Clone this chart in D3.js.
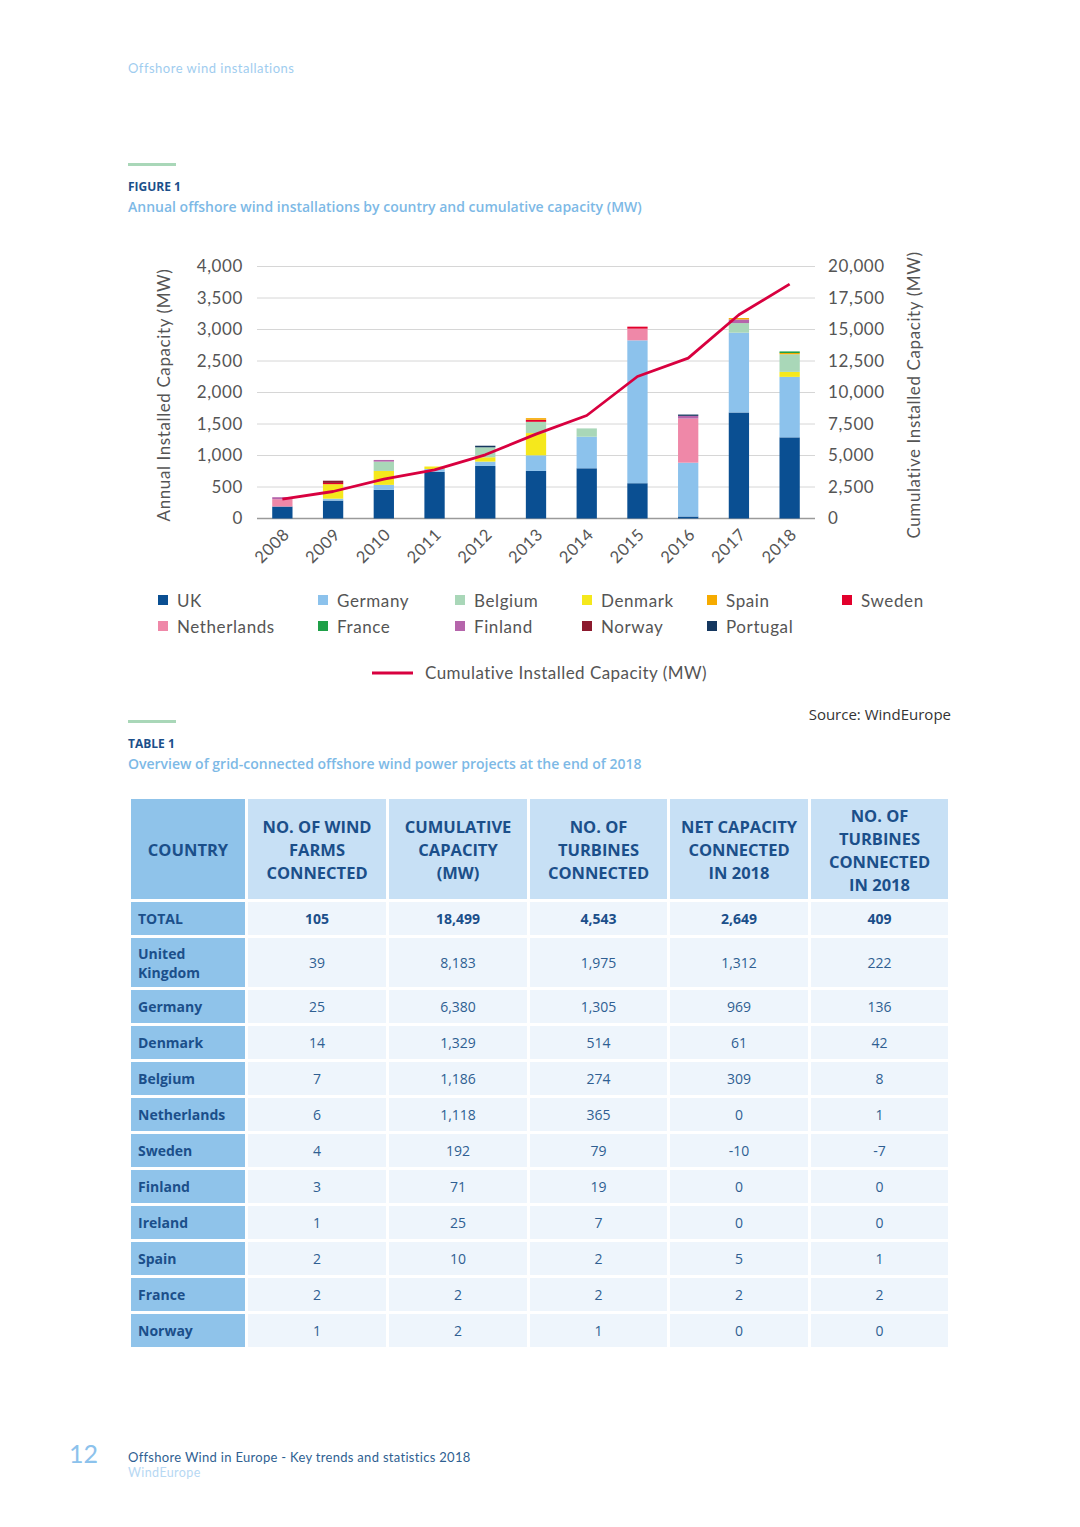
<!DOCTYPE html>
<html><head><meta charset="utf-8">
<script src="https://cdn.jsdelivr.net/npm/d3@7/dist/d3.min.js"></script>
<style>
html,body{margin:0;padding:0;background:#fff;}
svg{display:block;}
</style></head>
<body>
<svg id="page" width="1080" height="1527"></svg>
<script>
// ---------- DATA ----------
const years = ["2008","2009","2010","2011","2012","2013","2014","2015","2016","2017","2018"];
const UK          = [190, 285, 454, 740, 834, 755, 797, 560, 32, 1683, 1288];
const Germany     = [0, 30, 80, 45, 69, 248, 501, 2268, 854, 1266, 960];
const Denmark     = [0, 230, 221, 40, 69, 353, 0, 0, 0, 0, 79];
const Belgium     = [0, 0, 148, 0, 158, 179, 132, 0, 0, 153, 280];
const Netherlands = [116, 0, 0, 0, 0, 0, 0, 185, 701, 0, 0];
const Finland     = [32, 0, 26, 0, 0, 0, 0, 0, 42, 58, 0];
const Sweden      = [0, 20, 0, 0, 0, 32, 0, 32, 0, 0, 0];
const Spain       = [0, 0, 0, 0, 0, 26, 0, 0, 0, 22, 20];
const France      = [0, 0, 0, 0, 0, 0, 0, 0, 0, 0, 25];
const Norway      = [0, 35, 0, 0, 0, 0, 0, 0, 0, 0, 0];
const Portugal    = [0, 0, 0, 0, 25, 0, 0, 0, 21, 0, 0];
const cumulative  = [1540, 2143, 3127, 3865, 5056, 6700, 8175, 11270, 12730, 16167, 18600];

const leftTicks  = [0, 500, 1000, 1500, 2000, 2500, 3000, 3500, 4000];
const rightTicks = [0, 2500, 5000, 7500, 10000, 12500, 15000, 17500, 20000];

const legendRow1 = ["UK", "Germany", "Belgium", "Denmark", "Spain", "Sweden"];
const legendRow2 = ["Netherlands", "France", "Finland", "Norway", "Portugal"];
const stackOrder = ["UK","Germany","Denmark","Belgium","Netherlands","Finland","Sweden","Spain","France","Norway","Portugal"];
const seriesValues = {UK, Germany, Denmark, Belgium, Netherlands, Finland, Sweden, Spain, France, Norway, Portugal};
const colors = {
  UK:"#0a4f92", Germany:"#8cc2ec", Belgium:"#a9d7b8", Denmark:"#f5e81c", Spain:"#f6ab00",
  Sweden:"#e2002c", Netherlands:"#ef88a8", France:"#1fa048", Finland:"#b565ab",
  Norway:"#8c1a2e", Portugal:"#15375f"
};
const lineColor = "#d8003f";

const tableHeaders = [
  ["COUNTRY"],
  ["NO. OF WIND","FARMS","CONNECTED"],
  ["CUMULATIVE","CAPACITY","(MW)"],
  ["NO. OF","TURBINES","CONNECTED"],
  ["NET CAPACITY","CONNECTED","IN 2018"],
  ["NO. OF","TURBINES","CONNECTED","IN 2018"]
];
const countries   = ["TOTAL","United Kingdom","Germany","Denmark","Belgium","Netherlands","Sweden","Finland","Ireland","Spain","France","Norway"];
const windFarms   = ["105","39","25","14","7","6","4","3","1","2","2","1"];
const cumCapacity = ["18,499","8,183","6,380","1,329","1,186","1,118","192","71","25","10","2","2"];
const turbines    = ["4,543","1,975","1,305","514","274","365","79","19","7","2","2","1"];
const netCap2018  = ["2,649","1,312","969","61","309","0","-10","0","0","5","2","0"];
const turb2018    = ["409","222","136","42","8","1","-7","0","0","1","2","0"];

// ---------- PAGE ----------
const svg = d3.select("#page");
const geo = "Lato, 'Open Sans', sans-serif";
const cal = "'Open Sans', 'Noto Sans', sans-serif";
const darkBlue = "#1b4f8a";

svg.append("text").attr("x",128).attr("y",73).attr("font-family",geo).attr("font-size",13)
  .attr("letter-spacing",0.5).attr("fill","#9fcdef").text("Offshore wind installations");

function section(y, label, title){
  svg.append("rect").attr("x",128).attr("y",y).attr("width",48).attr("height",3).attr("fill","#a9d7b8");
  svg.append("text").attr("x",128).attr("y",y+28).attr("font-family",cal).attr("font-weight",700)
    .attr("font-size",12).attr("fill",darkBlue).text(label);
  svg.append("text").attr("x",128).attr("y",y+49).attr("font-family",cal).attr("font-weight",600)
    .attr("font-size",14).attr("fill","#7db9e6").text(title);
}
section(163, "FIGURE 1", "Annual offshore wind installations by country and cumulative capacity (MW)");
section(720, "TABLE 1", "Overview of grid-connected offshore wind power projects at the end of 2018");

// ---------- CHART ----------
const x0 = 257, x1 = 815, yTop = 266.5, yBot = 518.5;
const x = d3.scaleBand().domain(years).range([x0, x1]).paddingInner(0.6).paddingOuter(0.3);
const yL = d3.scaleLinear().domain([0, 4000]).range([yBot, yTop]);
const yR = d3.scaleLinear().domain([0, 20000]).range([yBot, yTop]);

const g = svg.append("g");
// gridlines
g.selectAll("line.grid").data(leftTicks.slice(1)).join("line")
  .attr("x1", x0).attr("x2", x1).attr("y1", d=>yL(d)).attr("y2", d=>yL(d))
  .attr("stroke","#d6d6d6").attr("stroke-width",1);
g.append("line").attr("x1",x0).attr("x2",x1).attr("y1",yBot).attr("y2",yBot)
  .attr("stroke","#9a9a9a").attr("stroke-width",1.3);

// left axis
const axL = d3.axisLeft(yL).tickValues(leftTicks).tickSize(0).tickPadding(14).tickFormat(d3.format(","));
const gL = g.append("g").attr("transform",`translate(${x0},0)`).call(axL);
gL.select(".domain").remove();
gL.selectAll("text").attr("font-family",geo).attr("font-size",17).attr("letter-spacing",0.6).attr("fill","#555");
// right axis
const axR = d3.axisRight(yR).tickValues(rightTicks).tickSize(0).tickPadding(13).tickFormat(d3.format(","));
const gR = g.append("g").attr("transform",`translate(${x1},0)`).call(axR);
gR.select(".domain").remove();
gR.selectAll("text").attr("font-family",geo).attr("font-size",17).attr("letter-spacing",0.6).attr("fill","#555");
// x axis
const axX = d3.axisBottom(x).tickSize(0).tickPadding(0);
const gX = g.append("g").attr("transform",`translate(0,${yBot})`).call(axX);
gX.select(".domain").remove();
gX.selectAll("text").attr("font-family",geo).attr("font-size",16.5).attr("letter-spacing",0.6).attr("fill","#555")
  .attr("text-anchor","end").attr("dy",0)
  .attr("transform","translate(8,17) rotate(-45)");

// axis titles
svg.append("text").attr("transform","translate(170,395) rotate(-90)").attr("text-anchor","middle")
  .attr("font-family",geo).attr("font-size",17).attr("letter-spacing",0.6).attr("fill","#555").text("Annual Installed Capacity (MW)");
svg.append("text").attr("transform","translate(920,395) rotate(-90)").attr("text-anchor","middle")
  .attr("font-family",geo).attr("font-size",17).attr("letter-spacing",0.6).attr("fill","#555").text("Cumulative Installed Capacity (MW)");

// stacked bars
const table = years.map((yr,i)=>{ const o={year:yr}; stackOrder.forEach(k=>o[k]=seriesValues[k][i]); return o; });
const stacked = d3.stack().keys(stackOrder)(table);
g.selectAll("g.series").data(stacked).join("g").attr("fill", d=>colors[d.key])
  .selectAll("rect").data(d=>d.filter(s=>s[1]-s[0]>0)).join("rect")
  .attr("x", d=>x(d.data.year)).attr("width", x.bandwidth())
  .attr("y", d=>yL(d[1])).attr("height", d=>yL(d[0])-yL(d[1]));

// cumulative line
const line = d3.line().x((d,i)=>x(years[i])+x.bandwidth()/2).y(d=>yR(d));
g.append("path").datum(cumulative).attr("d",line).attr("fill","none")
  .attr("stroke",lineColor).attr("stroke-width",2.8).attr("stroke-linejoin","round");

// legend
const legX = [158, 318, 455, 582, 707, 842];
function legendRow(items, y){
  items.forEach((k,i)=>{
    svg.append("rect").attr("x",legX[i]).attr("y",y-6).attr("width",10).attr("height",10).attr("fill",colors[k]);
    svg.append("text").attr("x",legX[i]+19).attr("y",y+6).attr("font-family",geo).attr("font-size",17)
      .attr("letter-spacing",0.6).attr("fill","#555").text(k);
  });
}
legendRow(legendRow1, 601);
legendRow(legendRow2, 627);
svg.append("line").attr("x1",372).attr("x2",413).attr("y1",673).attr("y2",673)
  .attr("stroke",lineColor).attr("stroke-width",3);
svg.append("text").attr("x",425).attr("y",679).attr("font-family",geo).attr("font-size",17)
  .attr("letter-spacing",0.45).attr("fill","#555").text("Cumulative Installed Capacity (MW)");

svg.append("text").attr("x",951).attr("y",720).attr("text-anchor","end").attr("font-family",cal)
  .attr("font-size",15).attr("fill","#333").text("Source: WindEurope");

// ---------- TABLE ----------
const colX = [131, 248, 389, 530, 670, 811];
const colW = [114, 138, 138, 137, 138, 137];
const headTop = 799, headH = 100;
const headFill = "#c7e0f5", countryFill = "#8fc3ea", cellFill = "#eef5fc";
tableHeaders.forEach((lines,c)=>{
  svg.append("rect").attr("x",colX[c]).attr("y",headTop).attr("width",colW[c]).attr("height",headH)
    .attr("fill", c===0 ? countryFill : headFill);
  const lh = 23, cy = headTop + headH/2 + 1;
  lines.forEach((t,j)=>{
    svg.append("text").attr("x",colX[c]+colW[c]/2).attr("y", cy + (j-(lines.length-1)/2)*lh + 6)
      .attr("text-anchor","middle").attr("font-family",cal).attr("font-weight",700)
      .attr("font-size",16.5).attr("fill",darkBlue).text(t);
  });
});
const cols = [windFarms, cumCapacity, turbines, netCap2018, turb2018];
let ry = 902;
countries.forEach((name,r)=>{
  const h = name==="United Kingdom" ? 49 : 33;
  svg.append("rect").attr("x",colX[0]).attr("y",ry).attr("width",colW[0]).attr("height",h).attr("fill",countryFill);
  if(name==="United Kingdom"){
    svg.append("text").attr("x",138).attr("y",ry+21).attr("font-family",cal).attr("font-weight",700)
      .attr("font-size",14).attr("fill",darkBlue).text("United");
    svg.append("text").attr("x",138).attr("y",ry+40).attr("font-family",cal).attr("font-weight",700)
      .attr("font-size",14).attr("fill",darkBlue).text("Kingdom");
  } else {
    svg.append("text").attr("x",138).attr("y",ry+h/2+5).attr("font-family",cal).attr("font-weight",700)
      .attr("font-size",14).attr("fill",darkBlue).text(name);
  }
  cols.forEach((arr,c)=>{
    svg.append("rect").attr("x",colX[c+1]).attr("y",ry).attr("width",colW[c+1]).attr("height",h).attr("fill",cellFill);
    svg.append("text").attr("x",colX[c+1]+colW[c+1]/2).attr("y",ry+h/2+5).attr("text-anchor","middle")
      .attr("font-family",cal).attr("font-weight", r===0 ? 700 : 400).attr("font-size",14)
      .attr("fill", r===0 ? darkBlue : "#2f5f92").text(arr[r]);
  });
  ry += h + 3;
});

// ---------- FOOTER ----------
svg.append("text").attr("x",69).attr("y",1463).attr("font-family",geo).attr("font-size",25)
  .attr("fill","#8cc2ec").text("12");
svg.append("text").attr("x",128).attr("y",1462).attr("font-family",geo).attr("font-size",13)
  .attr("letter-spacing",0.3).attr("fill","#2f5f92").text("Offshore Wind in Europe - Key trends and statistics 2018");
svg.append("text").attr("x",128).attr("y",1477).attr("font-family",geo).attr("font-size",12.5)
  .attr("letter-spacing",0.4).attr("fill","#b7d8f3").text("WindEurope");
</script>
</body></html>
